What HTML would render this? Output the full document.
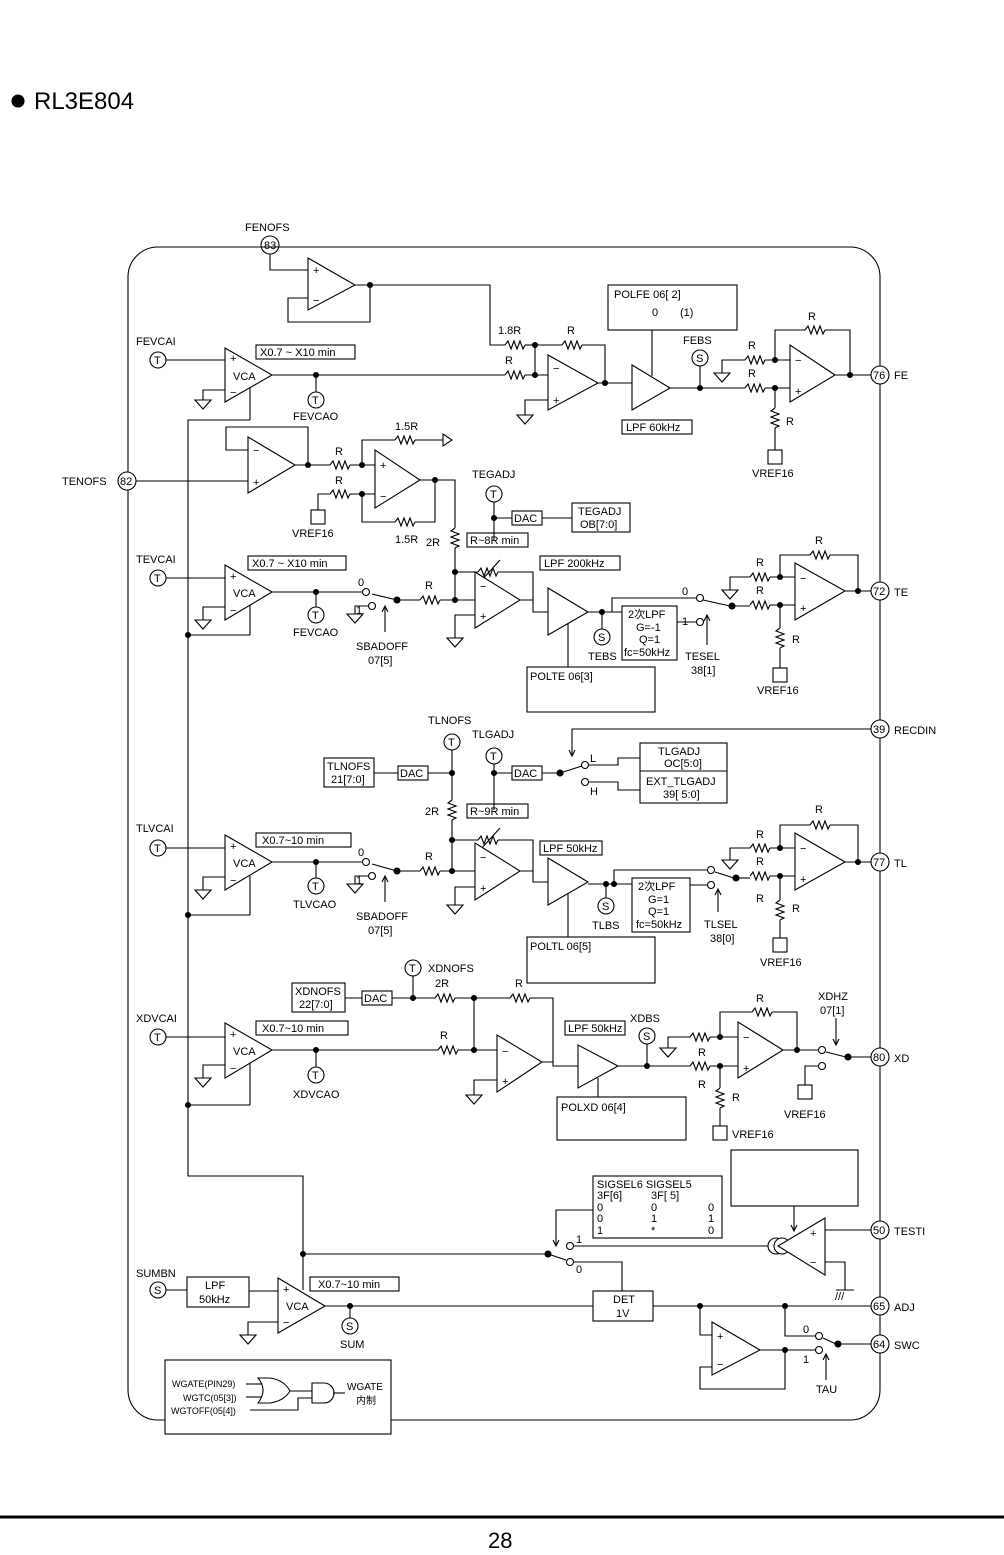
<!DOCTYPE html>
<html><head><meta charset="utf-8"><style>
html,body{margin:0;padding:0;background:#fff}
svg{display:block}
text{font-family:"Liberation Sans","Noto Sans CJK JP",sans-serif;font-size:11px;fill:#000}
.big{font-size:24px}
.pin{font-size:11px}
</style></head><body>
<svg width="1004" height="1555" viewBox="0 0 1004 1555" xmlns="http://www.w3.org/2000/svg">
<defs>
<path id="rh" d="M0,0 l3,-4 l3,8 l3,-8 l3,8 l3,-8 l3,8 l2,-4" fill="none" stroke="#000" stroke-width="1.1"/>
<path id="rv" d="M0,0 l-4,3 l8,3 l-8,3 l8,3 l-8,3 l8,3 l-4,2" fill="none" stroke="#000" stroke-width="1.1"/>
<path id="gnd" d="M-8,0 h16 l-8,9 z" fill="#fff" stroke="#000" stroke-width="1.1"/>
</defs>
<g fill="none" stroke="#000" stroke-width="1.1">
<circle cx="18" cy="101" r="6" fill="#000"/>
<text x="34" y="109" class="big" stroke="none">RL3E804</text>
<rect x="128" y="247" width="752" height="1173" rx="30" ry="30"/>
<line x1="0" y1="1517" x2="1004" y2="1517" stroke-width="3"/>

<!-- FENOFS -->
<circle cx="270" cy="245" r="9"/><text x="264" y="249" stroke="none" class="pin">83</text>
<text x="245" y="231" stroke="none">FENOFS</text>
<polyline points="270,254 270,270 308,270"/>
<polygon points="308,258 308,310 355,285" fill="#fff"/>
<text x="313" y="274" stroke="none">+</text><text x="313" y="304" stroke="none">−</text>
<polyline points="308,298 288,298 288,322 370,322 370,285 355,285"/>
<polyline points="370,285 490,285 490,345 505,345"/>
<circle cx="370" cy="285" r="2.5" fill="#000"/>
<use href="#rh" x="505" y="345"/><text x="498" y="334" stroke="none">1.8R</text>
<line x1="525" y1="345" x2="535" y2="345"/>
<!-- FE VCA -->
<text x="136" y="345" stroke="none">FEVCAI</text>
<circle cx="158" cy="360" r="8"/><text x="154" y="364" stroke="none">T</text>
<line x1="166" y1="360" x2="225" y2="360"/>
<polygon points="225,348 225,402 272,375" fill="#fff"/>
<text x="230" y="362" stroke="none">+</text><text x="233" y="380" stroke="none">VCA</text><text x="230" y="396" stroke="none">−</text>
<polyline points="225,390 203,390 203,400"/><use href="#gnd" x="203" y="400"/>
<rect x="256" y="345" width="99" height="14"/><text x="260" y="356" stroke="none">X0.7 ~ X10 min</text>
<line x1="272" y1="375" x2="505" y2="375"/>
<circle cx="316" cy="375" r="2.5" fill="#000"/>
<line x1="316" y1="375" x2="316" y2="392"/><circle cx="316" cy="400" r="8"/><text x="312" y="404" stroke="none">T</text>
<text x="293" y="420" stroke="none">FEVCAO</text>
<line x1="250" y1="388" x2="250" y2="420"/>
<use href="#rh" x="505" y="375"/><text x="505" y="364" stroke="none">R</text>
<polyline points="525,375 548,375"/>
<polyline points="535,345 535,375"/><circle cx="535" cy="345" r="2.5" fill="#000"/><circle cx="535" cy="375" r="2.5" fill="#000"/>
<line x1="535" y1="345" x2="562" y2="345"/><use href="#rh" x="562" y="345"/><text x="567" y="334" stroke="none">R</text>
<polyline points="582,345 605,345 605,383"/>
<polygon points="548,355 548,410 598,383" fill="#fff"/>
<text x="553" y="372" stroke="none">−</text><text x="553" y="404" stroke="none">+</text>
<polyline points="548,400 525,400 525,415"/><use href="#gnd" x="525" y="415"/>
<line x1="598" y1="383" x2="632" y2="383"/><circle cx="605" cy="383" r="2.5" fill="#000"/>
<rect x="608" y="285" width="129" height="45"/><text x="614" y="298" stroke="none">POLFE 06[ 2]</text><text x="652" y="316" stroke="none">0</text><text x="680" y="316" stroke="none">(1)</text>
<polygon points="632,365 632,410 670,388" fill="#fff"/>
<line x1="652" y1="330" x2="652" y2="376"/>
<rect x="622" y="420" width="70" height="14"/><text x="626" y="431" stroke="none">LPF 60kHz</text>
<line x1="670" y1="388" x2="745" y2="388"/>
<circle cx="700" cy="388" r="2.5" fill="#000"/><line x1="700" y1="388" x2="700" y2="366"/>
<circle cx="700" cy="358" r="8"/><text x="696" y="362" stroke="none">S</text><text x="683" y="344" stroke="none">FEBS</text>
<use href="#rh" x="745" y="388"/><text x="748" y="377" stroke="none">R</text>
<polyline points="765,388 775,388 790,388"/>
<use href="#rh" x="745" y="360"/><text x="748" y="349" stroke="none">R</text>
<polyline points="745,360 722,360 722,373"/><use href="#gnd" x="722" y="373"/>
<polyline points="765,360 790,360"/>
<circle cx="775" cy="360" r="2.5" fill="#000"/><polyline points="775,360 775,330 805,330"/>
<use href="#rh" x="805" y="330"/><text x="808" y="320" stroke="none">R</text><polyline points="825,330 850,330 850,375"/>
<polygon points="790,345 790,402 835,375" fill="#fff"/>
<text x="795" y="364" stroke="none">−</text><text x="795" y="395" stroke="none">+</text>
<circle cx="775" cy="388" r="2.5" fill="#000"/><line x1="775" y1="388" x2="775" y2="408"/><use href="#rv" x="775" y="408"/><text x="786" y="425" stroke="none">R</text>
<line x1="775" y1="428" x2="775" y2="450"/><rect x="768" y="450" width="14" height="14"/><text x="752" y="477" stroke="none">VREF16</text>
<line x1="835" y1="375" x2="871" y2="375"/><circle cx="850" cy="375" r="2.5" fill="#000"/>
<circle cx="880" cy="375" r="9" fill="#fff"/><text x="873" y="379" stroke="none">76</text><text x="894" y="379" stroke="none">FE</text>

<!-- TENOFS -->
<circle cx="127" cy="481" r="9" fill="#fff"/><text x="120" y="485" stroke="none">82</text><text x="62" y="485" stroke="none">TENOFS</text>
<line x1="136" y1="481" x2="248" y2="481"/>
<polygon points="248,437 248,493 295,465" fill="#fff"/>
<text x="253" y="454" stroke="none">−</text><text x="253" y="486" stroke="none">+</text>
<polyline points="248,450 226,450 226,427 308,427 308,465"/>
<line x1="295" y1="465" x2="330" y2="465"/><circle cx="308" cy="465" r="2.5" fill="#000"/>
<use href="#rh" x="330" y="465"/><text x="335" y="455" stroke="none">R</text>
<polyline points="350,465 375,465"/><circle cx="362" cy="465" r="2.5" fill="#000"/>
<polyline points="362,465 362,440 395,440"/><use href="#rh" x="395" y="440"/><text x="395" y="430" stroke="none">1.5R</text>
<polyline points="415,440 443,440"/><path d="M443,434 l9,6 l-9,6 z" fill="#fff"/>
<polygon points="375,450 375,508 420,480" fill="#fff"/>
<text x="380" y="469" stroke="none">+</text><text x="380" y="500" stroke="none">−</text>
<use href="#rh" x="330" y="494"/><text x="335" y="484" stroke="none">R</text>
<polyline points="350,494 375,494"/><polyline points="330,494 318,494 318,510"/><rect x="311" y="510" width="14" height="14"/><text x="292" y="537" stroke="none">VREF16</text>
<circle cx="362" cy="494" r="2.5" fill="#000"/><polyline points="362,494 362,522 395,522"/><use href="#rh" x="395" y="522"/><text x="395" y="543" stroke="none">1.5R</text>
<polyline points="415,522 435,522 435,480 420,480"/><circle cx="435" cy="480" r="2.5" fill="#000"/>
<polyline points="435,480 455,480 455,528"/><use href="#rv" x="455" y="528"/><text x="426" y="546" stroke="none">2R</text>
<line x1="455" y1="548" x2="455" y2="600"/>
<!-- TEGADJ -->
<text x="472" y="478" stroke="none">TEGADJ</text><circle cx="494" cy="494" r="8"/><text x="490" y="498" stroke="none">T</text>
<line x1="494" y1="502" x2="494" y2="540"/><circle cx="494" cy="518" r="2.5" fill="#000"/>
<line x1="494" y1="518" x2="512" y2="518"/><rect x="512" y="511" width="30" height="14"/><text x="514" y="522" stroke="none">DAC</text>
<line x1="542" y1="518" x2="572" y2="518"/><rect x="572" y="503" width="58" height="29"/><text x="578" y="515" stroke="none">TEGADJ</text><text x="580" y="528" stroke="none">OB[7:0]</text>
<rect x="467" y="533" width="61" height="14"/><text x="470" y="544" stroke="none">R~8R min</text>
<polyline points="455,572 478,572"/><use href="#rh" x="478" y="572"/><polyline points="498,572 533,572 533,600"/>
<line x1="480" y1="582" x2="500" y2="560"/><circle cx="455" cy="572" r="2.5" fill="#000"/>
<rect x="540" y="556" width="80" height="14"/><text x="544" y="567" stroke="none">LPF 200kHz</text>
<!-- TE VCA -->
<text x="136" y="563" stroke="none">TEVCAI</text><circle cx="158" cy="578" r="8"/><text x="154" y="582" stroke="none">T</text>
<line x1="166" y1="578" x2="225" y2="578"/>
<polygon points="225,565 225,620 272,592" fill="#fff"/>
<text x="230" y="580" stroke="none">+</text><text x="233" y="597" stroke="none">VCA</text><text x="230" y="614" stroke="none">−</text>
<polyline points="225,607 203,607 203,620"/><use href="#gnd" x="203" y="620"/>
<rect x="248" y="556" width="98" height="14"/><text x="252" y="567" stroke="none">X0.7 ~ X10 min</text>
<line x1="272" y1="592" x2="362" y2="592"/><circle cx="316" cy="592" r="2.5" fill="#000"/>
<line x1="316" y1="592" x2="316" y2="607"/><circle cx="316" cy="615" r="8"/><text x="312" y="619" stroke="none">T</text><text x="293" y="636" stroke="none">FEVCAO</text>
<line x1="250" y1="605" x2="250" y2="635"/>
<circle cx="366" cy="592" r="3.5" fill="#fff"/><text x="358" y="586" stroke="none">0</text>
<circle cx="372" cy="606" r="3.5" fill="#fff"/><text x="356" y="614" stroke="none">1</text>
<polyline points="369,606 355,606 355,614"/><use href="#gnd" x="355" y="614"/>
<line x1="372" y1="594" x2="397" y2="600"/><circle cx="397" cy="600" r="3" fill="#000"/>
<line x1="385" y1="632" x2="385" y2="607"/><path d="M382,612 l3,-6 l3,6"/>
<text x="356" y="650" stroke="none">SBADOFF</text><text x="368" y="664" stroke="none">07[5]</text>
<line x1="397" y1="600" x2="420" y2="600"/><use href="#rh" x="420" y="600"/><text x="425" y="589" stroke="none">R</text>
<polyline points="440,600 475,600"/><circle cx="455" cy="600" r="2.5" fill="#000"/>
<polygon points="475,572 475,628 520,600" fill="#fff"/>
<text x="480" y="590" stroke="none">−</text><text x="480" y="620" stroke="none">+</text>
<polyline points="475,615 455,615 455,638"/><use href="#gnd" x="455" y="638"/>
<polyline points="520,600 533,600 533,612 548,612"/>
<polygon points="548,588 548,635 588,612" fill="#fff"/>
<line x1="568" y1="624" x2="568" y2="667"/>
<line x1="588" y1="612" x2="622" y2="612"/><circle cx="602" cy="612" r="2.5" fill="#000"/>
<line x1="602" y1="612" x2="602" y2="629"/><circle cx="602" cy="637" r="8"/><text x="598" y="641" stroke="none">S</text><text x="588" y="660" stroke="none">TEBS</text>
<rect x="622" y="606" width="55" height="54"/><text x="628" y="618" stroke="none">2次LPF</text><text x="636" y="631" stroke="none">G=-1</text><text x="639" y="643" stroke="none">Q=1</text><text x="624" y="656" stroke="none">fc=50kHz</text>
<line x1="677" y1="622" x2="697" y2="622"/>
<circle cx="700" cy="598" r="3.5" fill="#fff"/><text x="682" y="595" stroke="none">0</text>
<circle cx="700" cy="622" r="3.5" fill="#fff"/><text x="682" y="625" stroke="none">1</text>
<polyline points="612,612 612,598 696,598"/>
<line x1="703" y1="600" x2="730" y2="606"/><circle cx="732" cy="606" r="3" fill="#000"/>
<line x1="707" y1="645" x2="707" y2="616"/><path d="M704,621 l3,-6 l3,6"/>
<text x="685" y="660" stroke="none">TESEL</text><text x="691" y="674" stroke="none">38[1]</text>
<rect x="527" y="667" width="128" height="45"/><text x="530" y="680" stroke="none">POLTE 06[3]</text>
<polyline points="732,606 750,606"/><use href="#rh" x="750" y="605"/><text x="756" y="594" stroke="none">R</text>
<polyline points="770,605 795,605"/>
<use href="#rh" x="750" y="577"/><text x="756" y="566" stroke="none">R</text>
<polyline points="750,577 730,577 730,590"/><use href="#gnd" x="730" y="590"/>
<polyline points="770,577 795,577"/><circle cx="780" cy="577" r="2.5" fill="#000"/>
<polyline points="780,577 780,555 810,555"/><use href="#rh" x="810" y="555"/><text x="815" y="544" stroke="none">R</text><polyline points="830,555 858,555 858,591"/>
<polygon points="795,563 795,620 845,591" fill="#fff"/>
<text x="800" y="582" stroke="none">−</text><text x="800" y="612" stroke="none">+</text>
<circle cx="780" cy="605" r="2.5" fill="#000"/><line x1="780" y1="605" x2="780" y2="628"/><use href="#rv" x="780" y="628"/><text x="792" y="643" stroke="none">R</text>
<line x1="780" y1="648" x2="780" y2="668"/><rect x="773" y="668" width="14" height="14"/><text x="757" y="694" stroke="none">VREF16</text>
<line x1="845" y1="591" x2="871" y2="591"/><circle cx="858" cy="591" r="2.5" fill="#000"/>
<circle cx="880" cy="591" r="9" fill="#fff"/><text x="873" y="595" stroke="none">72</text><text x="894" y="596" stroke="none">TE</text>

<!-- RECDIN -->
<circle cx="880" cy="729" r="9" fill="#fff"/><text x="873" y="733" stroke="none">39</text><text x="894" y="734" stroke="none">RECDIN</text>
<polyline points="871,729 572,729 572,755"/><path d="M569,750 l3,6 l3,-6"/>
<circle cx="560" cy="773" r="3" fill="#000"/>
<line x1="560" y1="773" x2="582" y2="766"/>
<circle cx="585" cy="765" r="3.5" fill="#fff"/><text x="590" y="762" stroke="none">L</text>
<circle cx="585" cy="782" r="3.5" fill="#fff"/><text x="590" y="795" stroke="none">H</text>
<polyline points="589,765 618,765 618,758 640,758"/>
<polyline points="589,782 618,782 618,790 640,790"/>
<rect x="640" y="743" width="87" height="60"/><line x1="640" y1="771" x2="727" y2="771"/>
<text x="658" y="755" stroke="none">TLGADJ</text><text x="664" y="767" stroke="none">OC[5:0]</text>
<text x="646" y="785" stroke="none">EXT_TLGADJ</text><text x="663" y="798" stroke="none">39[ 5:0]</text>

<!-- TL -->
<text x="428" y="724" stroke="none">TLNOFS</text><circle cx="452" cy="742" r="8"/><text x="448" y="746" stroke="none">T</text>
<line x1="452" y1="750" x2="452" y2="800"/><circle cx="452" cy="773" r="2.5" fill="#000"/>
<rect x="324" y="758" width="50" height="29"/><text x="327" y="770" stroke="none">TLNOFS</text><text x="331" y="783" stroke="none">21[7:0]</text>
<line x1="374" y1="773" x2="398" y2="773"/><rect x="398" y="766" width="30" height="14"/><text x="400" y="777" stroke="none">DAC</text><line x1="428" y1="773" x2="452" y2="773"/>
<use href="#rv" x="452" y="800"/><text x="425" y="815" stroke="none">2R</text><line x1="452" y1="820" x2="452" y2="871"/>
<text x="472" y="738" stroke="none">TLGADJ</text><circle cx="494" cy="756" r="8"/><text x="490" y="760" stroke="none">T</text>
<line x1="494" y1="764" x2="494" y2="810"/><circle cx="494" cy="773" r="2.5" fill="#000"/>
<line x1="494" y1="773" x2="512" y2="773"/><rect x="512" y="766" width="30" height="14"/><text x="514" y="777" stroke="none">DAC</text><line x1="542" y1="773" x2="560" y2="773"/>
<rect x="467" y="804" width="61" height="14"/><text x="470" y="815" stroke="none">R~9R min</text>
<polyline points="452,840 478,840"/><use href="#rh" x="478" y="840"/><polyline points="498,840 533,840 533,871"/>
<line x1="480" y1="850" x2="500" y2="828"/><circle cx="452" cy="840" r="2.5" fill="#000"/>
<rect x="540" y="841" width="62" height="14"/><text x="543" y="852" stroke="none">LPF 50kHz</text>
<text x="136" y="832" stroke="none">TLVCAI</text><circle cx="158" cy="848" r="8"/><text x="154" y="852" stroke="none">T</text>
<line x1="166" y1="848" x2="225" y2="848"/>
<polygon points="225,835 225,890 272,862" fill="#fff"/>
<text x="230" y="850" stroke="none">+</text><text x="233" y="867" stroke="none">VCA</text><text x="230" y="884" stroke="none">−</text>
<polyline points="225,877 203,877 203,890"/><use href="#gnd" x="203" y="890"/>
<rect x="256" y="833" width="95" height="14"/><text x="262" y="844" stroke="none">X0.7~10 min</text>
<line x1="272" y1="862" x2="362" y2="862"/><circle cx="316" cy="862" r="2.5" fill="#000"/>
<line x1="316" y1="862" x2="316" y2="878"/><circle cx="316" cy="886" r="8"/><text x="312" y="890" stroke="none">T</text><text x="293" y="908" stroke="none">TLVCAO</text>
<line x1="250" y1="876" x2="250" y2="915"/>
<circle cx="366" cy="862" r="3.5" fill="#fff"/><text x="358" y="856" stroke="none">0</text>
<circle cx="372" cy="876" r="3.5" fill="#fff"/><text x="356" y="884" stroke="none">1</text>
<polyline points="369,876 355,876 355,884"/><use href="#gnd" x="355" y="884"/>
<line x1="372" y1="864" x2="397" y2="871"/><circle cx="397" cy="871" r="3" fill="#000"/>
<line x1="385" y1="902" x2="385" y2="877"/><path d="M382,882 l3,-6 l3,6"/>
<text x="356" y="920" stroke="none">SBADOFF</text><text x="368" y="934" stroke="none">07[5]</text>
<line x1="397" y1="871" x2="420" y2="871"/><use href="#rh" x="420" y="871"/><text x="425" y="860" stroke="none">R</text>
<polyline points="440,871 475,871"/><circle cx="452" cy="871" r="2.5" fill="#000"/>
<polygon points="475,843 475,900 520,871" fill="#fff"/>
<text x="480" y="861" stroke="none">−</text><text x="480" y="892" stroke="none">+</text>
<polyline points="475,887 455,887 455,905"/><use href="#gnd" x="455" y="905"/>
<polyline points="520,871 533,871 533,882 548,882"/>
<polygon points="548,858 548,905 588,882" fill="#fff"/>
<line x1="568" y1="894" x2="568" y2="937"/>
<line x1="588" y1="884" x2="632" y2="884"/><circle cx="606" cy="884" r="2.5" fill="#000"/><circle cx="614" cy="884" r="2.5" fill="#000"/>
<line x1="606" y1="884" x2="606" y2="898"/><circle cx="606" cy="906" r="8"/><text x="602" y="910" stroke="none">S</text><text x="592" y="929" stroke="none">TLBS</text>
<rect x="632" y="878" width="58" height="54"/><text x="638" y="890" stroke="none">2次LPF</text><text x="648" y="903" stroke="none">G=1</text><text x="648" y="915" stroke="none">Q=1</text><text x="636" y="928" stroke="none">fc=50kHz</text>
<polyline points="614,884 614,870 708,870"/>
<circle cx="711" cy="870" r="3.5" fill="#fff"/><circle cx="711" cy="885" r="3.5" fill="#fff"/>
<line x1="690" y1="885" x2="707" y2="885"/>
<line x1="715" y1="872" x2="734" y2="878"/><circle cx="736" cy="878" r="3" fill="#000"/>
<line x1="718" y1="912" x2="718" y2="890"/><path d="M715,895 l3,-6 l3,6"/>
<text x="704" y="928" stroke="none">TLSEL</text><text x="710" y="942" stroke="none">38[0]</text>
<rect x="527" y="937" width="128" height="46"/><text x="530" y="950" stroke="none">POLTL 06[5]</text>
<polyline points="736,878 750,878"/><use href="#rh" x="750" y="876"/><text x="756" y="865" stroke="none">R</text>
<polyline points="770,876 795,876"/>
<use href="#rh" x="750" y="848"/><text x="756" y="838" stroke="none">R</text>
<polyline points="750,848 730,848 730,860"/><use href="#gnd" x="730" y="860"/>
<polyline points="770,848 795,848"/><circle cx="780" cy="848" r="2.5" fill="#000"/>
<polyline points="780,848 780,825 810,825"/><use href="#rh" x="810" y="825"/><text x="815" y="813" stroke="none">R</text><polyline points="830,825 858,825 858,862"/>
<polygon points="795,833 795,890 845,862" fill="#fff"/>
<text x="800" y="852" stroke="none">−</text><text x="800" y="883" stroke="none">+</text>
<text x="756" y="902" stroke="none">R</text>
<circle cx="780" cy="876" r="2.5" fill="#000"/><line x1="780" y1="876" x2="780" y2="900"/><use href="#rv" x="780" y="900"/><text x="792" y="912" stroke="none">R</text>
<line x1="780" y1="920" x2="780" y2="938"/><rect x="773" y="938" width="14" height="14"/><text x="760" y="966" stroke="none">VREF16</text>
<line x1="845" y1="862" x2="871" y2="862"/><circle cx="858" cy="862" r="2.5" fill="#000"/>
<circle cx="880" cy="862" r="9" fill="#fff"/><text x="873" y="866" stroke="none">77</text><text x="894" y="867" stroke="none">TL</text>

<!-- XD -->
<circle cx="413" cy="968" r="8"/><text x="409" y="972" stroke="none">T</text><text x="428" y="972" stroke="none">XDNOFS</text>
<line x1="413" y1="976" x2="413" y2="998"/>
<rect x="292" y="983" width="53" height="29"/><text x="295" y="995" stroke="none">XDNOFS</text><text x="299" y="1008" stroke="none">22[7:0]</text>
<line x1="345" y1="998" x2="362" y2="998"/><rect x="362" y="991" width="30" height="14"/><text x="364" y="1002" stroke="none">DAC</text>
<line x1="392" y1="998" x2="435" y2="998"/><circle cx="413" cy="998" r="2.5" fill="#000"/>
<use href="#rh" x="435" y="998"/><text x="435" y="987" stroke="none">2R</text>
<polyline points="455,998 510,998"/><circle cx="474" cy="998" r="2.5" fill="#000"/>
<use href="#rh" x="510" y="998"/><text x="515" y="987" stroke="none">R</text>
<polyline points="530,998 553,998 553,1062"/>
<text x="136" y="1022" stroke="none">XDVCAI</text><circle cx="158" cy="1037" r="8"/><text x="154" y="1041" stroke="none">T</text>
<line x1="166" y1="1037" x2="225" y2="1037"/>
<polygon points="225,1023 225,1078 272,1050" fill="#fff"/>
<text x="230" y="1038" stroke="none">+</text><text x="233" y="1055" stroke="none">VCA</text><text x="230" y="1072" stroke="none">−</text>
<polyline points="225,1065 203,1065 203,1078"/><use href="#gnd" x="203" y="1078"/>
<rect x="256" y="1021" width="92" height="14"/><text x="262" y="1032" stroke="none">X0.7~10 min</text>
<line x1="272" y1="1050" x2="438" y2="1050"/><circle cx="316" cy="1050" r="2.5" fill="#000"/>
<line x1="316" y1="1050" x2="316" y2="1067"/><circle cx="316" cy="1075" r="8"/><text x="312" y="1079" stroke="none">T</text><text x="293" y="1098" stroke="none">XDVCAO</text>
<line x1="250" y1="1063" x2="250" y2="1105"/>
<use href="#rh" x="438" y="1050"/><text x="440" y="1039" stroke="none">R</text>
<polyline points="458,1050 497,1050"/><circle cx="474" cy="1050" r="2.5" fill="#000"/><line x1="474" y1="998" x2="474" y2="1050"/>
<polygon points="497,1035 497,1092 542,1062" fill="#fff"/>
<text x="502" y="1055" stroke="none">−</text><text x="502" y="1085" stroke="none">+</text>
<polyline points="497,1080 474,1080 474,1095"/><use href="#gnd" x="474" y="1095"/>
<polyline points="542,1062 553,1062 553,1066 578,1066"/>
<rect x="565" y="1021" width="60" height="14"/><text x="568" y="1032" stroke="none">LPF 50kHz</text>
<polygon points="578,1045 578,1088 618,1066" fill="#fff"/>
<line x1="598" y1="1078" x2="598" y2="1097"/>
<rect x="557" y="1097" width="129" height="43"/><text x="561" y="1111" stroke="none">POLXD 06[4]</text>
<line x1="618" y1="1066" x2="690" y2="1066"/><circle cx="647" cy="1066" r="2.5" fill="#000"/>
<line x1="647" y1="1066" x2="647" y2="1044"/><circle cx="647" cy="1036" r="8"/><text x="643" y="1040" stroke="none">S</text><text x="630" y="1022" stroke="none">XDBS</text>
<use href="#rh" x="690" y="1066"/><polyline points="710,1066 738,1066"/><text x="698" y="1056" stroke="none">R</text>
<use href="#rh" x="690" y="1037"/><polyline points="690,1037 668,1037 668,1048"/><use href="#gnd" x="668" y="1048"/>
<polyline points="710,1037 738,1037"/><circle cx="720" cy="1037" r="2.5" fill="#000"/>
<polyline points="720,1037 720,1012 752,1012"/><use href="#rh" x="752" y="1012"/><text x="756" y="1002" stroke="none">R</text><polyline points="772,1012 797,1012 797,1050"/>
<polygon points="738,1022 738,1078 783,1050" fill="#fff"/>
<text x="743" y="1041" stroke="none">−</text><text x="743" y="1072" stroke="none">+</text>
<text x="698" y="1088" stroke="none">R</text>
<circle cx="720" cy="1066" r="2.5" fill="#000"/><line x1="720" y1="1066" x2="720" y2="1088"/><use href="#rv" x="720" y="1088"/><text x="732" y="1101" stroke="none">R</text>
<line x1="720" y1="1108" x2="720" y2="1126"/><rect x="713" y="1126" width="14" height="14"/><text x="732" y="1138" stroke="none">VREF16</text>
<line x1="783" y1="1050" x2="818" y2="1050"/><circle cx="797" cy="1050" r="2.5" fill="#000"/>
<circle cx="822" cy="1050" r="3.5" fill="#fff"/><circle cx="822" cy="1066" r="3.5" fill="#fff"/>
<line x1="826" y1="1052" x2="846" y2="1057"/><circle cx="848" cy="1057" r="3" fill="#000"/><line x1="848" y1="1057" x2="871" y2="1057"/>
<polyline points="818,1066 805,1066 805,1085"/><rect x="798" y="1085" width="14" height="14"/><text x="784" y="1118" stroke="none">VREF16</text>
<line x1="836" y1="1018" x2="836" y2="1044"/><path d="M833,1039 l3,6 l3,-6"/>
<text x="818" y="1000" stroke="none">XDHZ</text><text x="820" y="1014" stroke="none">07[1]</text>
<circle cx="880" cy="1057" r="9" fill="#fff"/><text x="873" y="1061" stroke="none">80</text><text x="894" y="1062" stroke="none">XD</text>

<!-- VCA control bus -->
<polyline points="250,420 188,420 188,1176 303,1176 303,1290"/>
<line x1="188" y1="635" x2="250" y2="635"/><circle cx="188" cy="635" r="2.5" fill="#000"/>
<line x1="188" y1="915" x2="250" y2="915"/><circle cx="188" cy="915" r="2.5" fill="#000"/>
<line x1="188" y1="1105" x2="250" y2="1105"/><circle cx="188" cy="1105" r="2.5" fill="#000"/>
<circle cx="303" cy="1254" r="2.5" fill="#000"/>

<!-- bottom section -->
<rect x="593" y="1176" width="129" height="62"/>
<text x="597" y="1188" stroke="none">SIGSEL6  SIGSEL5</text><text x="597" y="1199" stroke="none">3F[6]</text><text x="651" y="1199" stroke="none">3F[ 5]</text>
<text x="597" y="1211" stroke="none">0</text><text x="651" y="1211" stroke="none">0</text><text x="708" y="1211" stroke="none">0</text>
<text x="597" y="1222" stroke="none">0</text><text x="651" y="1222" stroke="none">1</text><text x="708" y="1222" stroke="none">1</text>
<text x="597" y="1234" stroke="none">1</text><text x="651" y="1234" stroke="none">*</text><text x="708" y="1234" stroke="none">0</text>
<polyline points="593,1210 556,1210 556,1245"/><path d="M553,1240 l3,6 l3,-6"/>
<line x1="303" y1="1254" x2="548" y2="1254"/><circle cx="548" cy="1254" r="3" fill="#000"/>
<line x1="548" y1="1254" x2="566" y2="1260"/>
<circle cx="570" cy="1246" r="3.5" fill="#fff"/><text x="576" y="1243" stroke="none">1</text>
<circle cx="570" cy="1262" r="3.5" fill="#fff"/><text x="576" y="1273" stroke="none">0</text>
<polyline points="574,1262 622,1262 622,1291"/>
<line x1="574" y1="1246" x2="770" y2="1246"/>
<circle cx="776" cy="1246" r="8" fill="#fff"/><circle cx="782" cy="1246" r="8" fill="#fff"/>
<polygon points="825,1218 825,1275 778,1246" fill="#fff"/>
<text x="810" y="1237" stroke="none">+</text><text x="810" y="1266" stroke="none">−</text>
<line x1="825" y1="1230" x2="871" y2="1230"/>
<polyline points="825,1262 845,1262 845,1290"/><text x="835" y="1300" stroke="none">///</text><line x1="836" y1="1290" x2="854" y2="1290"/>
<rect x="731" y="1150" width="127" height="56"/><line x1="794" y1="1206" x2="794" y2="1230"/><path d="M791,1225 l3,6 l3,-6"/>
<circle cx="880" cy="1230" r="9" fill="#fff"/><text x="873" y="1234" stroke="none">50</text><text x="894" y="1235" stroke="none">TESTI</text>

<text x="136" y="1277" stroke="none">SUMBN</text><circle cx="158" cy="1290" r="8"/><text x="154" y="1294" stroke="none">S</text>
<line x1="166" y1="1290" x2="187" y2="1290"/><rect x="187" y="1277" width="62" height="30"/><text x="205" y="1289" stroke="none">LPF</text><text x="199" y="1303" stroke="none">50kHz</text>
<line x1="249" y1="1291" x2="278" y2="1291"/>
<polygon points="278,1278 278,1333 325,1306" fill="#fff"/>
<text x="283" y="1293" stroke="none">+</text><text x="286" y="1310" stroke="none">VCA</text><text x="283" y="1326" stroke="none">−</text>
<polyline points="278,1322 248,1322 248,1335"/><use href="#gnd" x="248" y="1335"/>
<rect x="310" y="1277" width="89" height="14"/><text x="318" y="1288" stroke="none">X0.7~10 min</text>
<line x1="325" y1="1306" x2="593" y2="1306"/><circle cx="350" cy="1306" r="2.5" fill="#000"/>
<line x1="350" y1="1306" x2="350" y2="1318"/><circle cx="350" cy="1326" r="8"/><text x="346" y="1330" stroke="none">S</text><text x="340" y="1348" stroke="none">SUM</text>
<rect x="593" y="1291" width="60" height="30"/><text x="613" y="1303" stroke="none">DET</text><text x="616" y="1317" stroke="none">1V</text>
<line x1="653" y1="1306" x2="871" y2="1306"/><circle cx="700" cy="1306" r="2.5" fill="#000"/><circle cx="785" cy="1306" r="2.5" fill="#000"/>
<circle cx="880" cy="1306" r="9" fill="#fff"/><text x="873" y="1310" stroke="none">65</text><text x="894" y="1311" stroke="none">ADJ</text>
<polyline points="700,1306 700,1335 712,1335"/>
<polygon points="712,1322 712,1375 760,1350" fill="#fff"/>
<text x="717" y="1340" stroke="none">+</text><text x="717" y="1368" stroke="none">−</text>
<polyline points="712,1367 700,1367 700,1389 785,1389 785,1350"/>
<line x1="760" y1="1350" x2="815" y2="1350"/><circle cx="785" cy="1350" r="2.5" fill="#000"/>
<polyline points="785,1306 785,1336 815,1336"/>
<circle cx="819" cy="1336" r="3.5" fill="#fff"/><text x="803" y="1333" stroke="none">0</text>
<circle cx="819" cy="1350" r="3.5" fill="#fff"/><text x="803" y="1363" stroke="none">1</text>
<line x1="823" y1="1338" x2="836" y2="1344"/><circle cx="838" cy="1344" r="3" fill="#000"/><line x1="838" y1="1344" x2="871" y2="1344"/>
<line x1="826" y1="1380" x2="826" y2="1355"/><path d="M823,1360 l3,-6 l3,6"/><text x="816" y="1393" stroke="none">TAU</text>
<circle cx="880" cy="1344" r="9" fill="#fff"/><text x="873" y="1348" stroke="none">64</text><text x="894" y="1349" stroke="none">SWC</text>

<rect x="165" y="1360" width="226" height="74" fill="#fff"/>
<text x="172" y="1387" stroke="none" style="font-size:9px">WGATE(PIN29)</text>
<text x="183" y="1401" stroke="none" style="font-size:9px">WGTC(05[3])</text>
<text x="171" y="1414" stroke="none" style="font-size:9px">WGTOFF(05[4])</text>
<line x1="246" y1="1384" x2="262" y2="1384"/><line x1="246" y1="1397" x2="262" y2="1397"/>
<path d="M258,1378 q10,12 0,25 h12 q14,-2 20,-12 q-6,-11 -20,-13 z" fill="#fff"/>
<line x1="290" y1="1391" x2="312" y2="1391"/>
<path d="M312,1383 h12 a9,9 0 0 1 0,20 h-12 z" fill="#fff"/>
<polyline points="250,1410 298,1410 298,1398 312,1398"/>
<line x1="333" y1="1393" x2="345" y2="1393"/>
<text x="347" y="1390" stroke="none" style="font-size:10px">WGATE</text><text x="356" y="1404" stroke="none" style="font-size:10px">内制</text>
</g>
<text x="488" y="1548" style="font-size:22px">28</text>
</svg>
</body></html>
